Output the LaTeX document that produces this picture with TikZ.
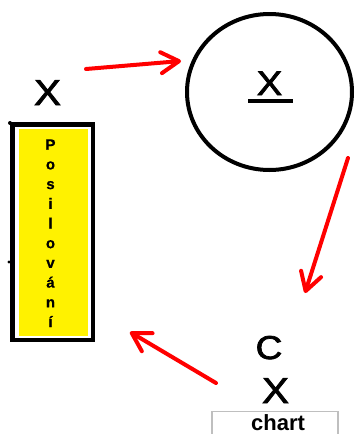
\documentclass[tikz,border=0pt]{standalone}
\usepackage{fontspec}
\setmainfont{Liberation Sans}
\newfontfamily\strokefont[FakeBold=2.2,FakeStretch=1.12]{Liberation Sans}
\newfontfamily\letterfont[FakeBold=0.6]{Liberation Sans Bold}
\usetikzlibrary{arrows.meta,shapes.geometric}
\tikzset{
  redarrow/.style={draw=red, line width=4pt, line cap=round,
    -{Straight Barb[length=18pt,width=21pt,round]}},
  bigx/.style={inner sep=0pt, anchor=base, font=\strokefont\fontsize{36}{36}\selectfont},
  blackline/.style={line width=4.5pt},
}
\begin{document}
\begin{tikzpicture}[x=1pt,y=-1pt]
\useasboundingbox (0,0) rectangle (355,434);
\clip (0,0) rectangle (355,434);
% left box
\fill[yellow] (18.5,128.5) rectangle (87.5,336);
\node[draw, blackline, minimum width=80.5pt, minimum height=215.5pt, inner sep=0pt] (box) at (52.5,232) {};
\fill (10,123) circle (2pt);
\fill (9,262) circle (1.6pt);
\node[inner sep=0pt, align=center, font=\letterfont\fontsize{15}{19.7}\selectfont] (word) at (50.5,233.2)
  {P\\o\\s\\i\\l\\o\\v\\á\\n\\í};
\node[bigx] (x1) at (47.5,105) {X};
% circle
\node[draw, ellipse, line width=4pt, minimum width=165pt, minimum height=156pt, inner sep=0pt] (circ) at (269.5,92) {};
\node[bigx, font=\strokefont\fontsize{34}{34}\selectfont] (x2) at (269.5,95) {X};
\draw[line width=4pt] ([xshift=-21.5pt,yshift=-6pt]x2.base) coordinate (ul1) -- ([xshift=23.5pt,yshift=-6pt]x2.base) coordinate (ul2);
% bottom right
\node[bigx, font=\strokefont\fontsize{33}{33}\selectfont] (c1) at (269,359) {C};
\node[bigx] (x3) at (275.5,403) {X};
\node[draw=black!25, line width=1.2pt, minimum width=126pt, minimum height=40pt, inner sep=0pt, anchor=north] (chart) at (275,411) {};
\node[inner sep=0pt, anchor=base, font=\bfseries\fontsize{22}{22}\selectfont] (charttext) at (278,430) {chart};
% arrows
\coordinate (a1s) at (86,69);
\coordinate (a1e) at (181,61);
\coordinate (a2s) at (348,158);
\coordinate (a2e) at (305,293);
\coordinate (a3s) at (216,383);
\coordinate (a3e) at (130,332);
\draw[redarrow] (a1s) -- (a1e);
\draw[redarrow] (a2s) -- (a2e);
\draw[redarrow] (a3s) -- (a3e);
\end{tikzpicture}
\end{document}
